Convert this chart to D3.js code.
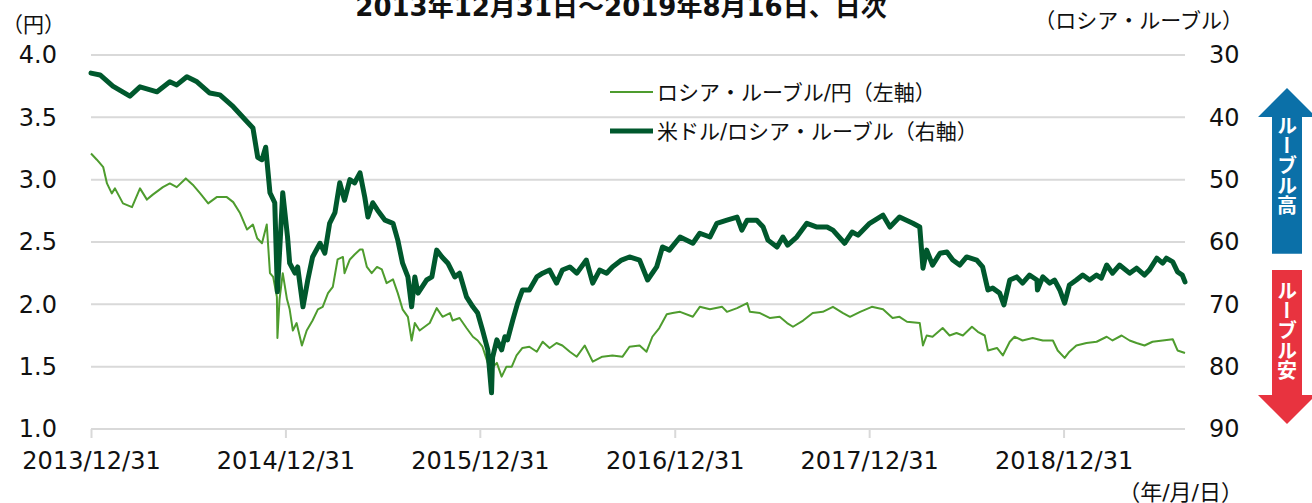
<!DOCTYPE html>
<html>
<head>
<meta charset="utf-8">
<script src="https://cdn.jsdelivr.net/npm/d3@7"></script>
<style>
  html, body { margin: 0; padding: 0; background: #fff; }
  svg { display: block; font-family: "DejaVu Sans", "Noto Sans CJK JP", sans-serif; }
</style>
</head>
<body>
<div id="chart"></div>
<script>
// ロシア・ルーブル/円（左軸）
const rubJpyDates = [
  "2013-12-31","2014-01-11","2014-01-23","2014-01-30","2014-02-08","2014-02-14","2014-03-01","2014-03-18",
  "2014-04-02","2014-04-15","2014-04-26","2014-05-15","2014-05-28","2014-06-10","2014-06-27","2014-07-10",
  "2014-07-24","2014-08-08","2014-08-24","2014-09-12","2014-09-24","2014-10-07","2014-10-20","2014-10-31",
  "2014-11-08","2014-11-17","2014-11-26","2014-12-02","2014-12-08","2014-12-15","2014-12-16","2014-12-20",
  "2014-12-26","2015-01-03","2015-01-08","2015-01-14","2015-01-21","2015-01-31","2015-02-09","2015-02-20",
  "2015-03-02","2015-03-11","2015-03-21","2015-03-30","2015-04-08","2015-04-18","2015-04-21","2015-05-01",
  "2015-05-10","2015-05-20","2015-05-25","2015-06-02","2015-06-11","2015-06-21","2015-06-30","2015-07-09",
  "2015-07-21","2015-07-30","2015-08-08","2015-08-18","2015-08-25","2015-08-31","2015-09-09","2015-09-28",
  "2015-10-11","2015-10-22","2015-11-05","2015-11-10","2015-11-23","2015-12-06","2015-12-18","2015-12-27",
  "2016-01-05","2016-01-15","2016-01-22","2016-02-01","2016-02-10","2016-02-19","2016-02-29","2016-03-09",
  "2016-03-20","2016-04-02","2016-04-16","2016-04-27","2016-05-10","2016-05-23","2016-06-03","2016-06-17",
  "2016-06-30","2016-07-15","2016-07-30","2016-08-17","2016-09-05","2016-09-24","2016-10-07","2016-10-26",
  "2016-11-08","2016-11-19","2016-12-02","2016-12-16","2016-12-27","2017-01-10","2017-02-03","2017-02-16",
  "2017-03-07","2017-03-30","2017-04-08","2017-04-27","2017-05-16","2017-05-21","2017-06-09","2017-06-28",
  "2017-07-16","2017-07-30","2017-08-10","2017-08-29","2017-09-16","2017-10-05","2017-10-24","2017-11-12",
  "2017-11-25","2017-12-14","2018-01-05","2018-01-26","2018-02-13","2018-02-26","2018-03-12","2018-04-05",
  "2018-04-11","2018-04-18","2018-04-29","2018-05-18","2018-05-31","2018-06-13","2018-06-25","2018-07-12",
  "2018-07-23","2018-08-05","2018-08-11","2018-08-28","2018-09-08","2018-09-21","2018-09-30","2018-10-15",
  "2018-11-03","2018-11-22","2018-12-11","2018-12-20","2019-01-02","2019-01-11","2019-01-24","2019-02-12",
  "2019-03-03","2019-03-22","2019-04-02","2019-04-19","2019-05-04","2019-05-17","2019-06-01","2019-06-16",
  "2019-07-05","2019-07-24","2019-08-02","2019-08-16"
];
const rubJpy = [
  3.21,3.16,3.10,2.97,2.89,2.93,2.81,2.78,
  2.93,2.84,2.88,2.94,2.97,2.94,3.01,2.96,
  2.89,2.81,2.86,2.86,2.82,2.73,2.60,2.64,
  2.53,2.49,2.64,2.25,2.22,2.06,1.73,2.04,
  2.25,2.04,1.96,1.79,1.85,1.67,1.79,1.87,
  1.96,1.98,2.09,2.14,2.36,2.38,2.25,2.36,
  2.40,2.44,2.44,2.30,2.25,2.30,2.28,2.17,
  2.20,2.09,1.96,1.90,1.71,1.85,1.79,1.85,
  1.97,1.90,1.93,1.87,1.89,1.81,1.74,1.71,
  1.66,1.53,1.49,1.53,1.42,1.50,1.50,1.59,
  1.65,1.66,1.62,1.70,1.65,1.69,1.67,1.62,
  1.58,1.67,1.54,1.58,1.59,1.58,1.66,1.67,
  1.62,1.74,1.81,1.92,1.93,1.94,1.90,1.98,
  1.96,1.98,1.94,1.97,2.01,1.94,1.93,1.89,
  1.90,1.85,1.82,1.87,1.93,1.94,1.98,1.93,
  1.90,1.94,1.98,1.96,1.89,1.90,1.86,1.85,
  1.67,1.75,1.74,1.81,1.75,1.77,1.75,1.82,
  1.78,1.75,1.63,1.65,1.59,1.70,1.74,1.71,
  1.73,1.71,1.71,1.63,1.57,1.62,1.67,1.69,
  1.70,1.74,1.71,1.75,1.71,1.69,1.67,1.70,
  1.71,1.72,1.63,1.61
];

// 米ドル/ロシア・ルーブル（右軸）
const usdRubDates = [
  "2013-12-31","2014-01-17","2014-02-10","2014-03-14","2014-04-02","2014-05-04","2014-05-28","2014-06-10",
  "2014-06-29","2014-07-18","2014-08-11","2014-08-30","2014-09-24","2014-10-20","2014-10-31","2014-11-09",
  "2014-11-17","2014-11-24","2014-12-02","2014-12-11","2014-12-16","2014-12-26","2015-01-04","2015-01-08",
  "2015-01-18","2015-01-23","2015-02-02","2015-02-11","2015-02-20","2015-03-06","2015-03-15","2015-03-24",
  "2015-04-03","2015-04-12","2015-04-21","2015-05-01","2015-05-10","2015-05-20","2015-05-29","2015-06-04",
  "2015-06-13","2015-06-22","2015-07-06","2015-07-21","2015-07-30","2015-08-08","2015-08-18","2015-08-25",
  "2015-08-31","2015-09-06","2015-09-22","2015-10-02","2015-10-11","2015-10-21","2015-11-01","2015-11-14",
  "2015-11-23","2015-12-06","2015-12-18","2015-12-27","2016-01-05","2016-01-15","2016-01-22","2016-01-24",
  "2016-02-01","2016-02-10","2016-02-16","2016-02-21","2016-03-02","2016-03-11","2016-03-20","2016-04-02",
  "2016-04-16","2016-04-27","2016-05-10","2016-05-23","2016-06-03","2016-06-17","2016-06-30","2016-07-18",
  "2016-07-30","2016-08-12","2016-08-25","2016-09-05","2016-09-22","2016-10-07","2016-10-26","2016-11-10",
  "2016-11-27","2016-12-08","2016-12-21","2017-01-10","2017-02-03","2017-02-16","2017-03-07","2017-03-20",
  "2017-04-08","2017-04-27","2017-05-06","2017-05-16","2017-06-03","2017-06-15","2017-06-24","2017-07-11",
  "2017-07-22","2017-07-31","2017-08-17","2017-09-05","2017-09-24","2017-10-13","2017-10-24","2017-11-15",
  "2017-11-29","2017-12-10","2018-01-01","2018-01-26","2018-02-08","2018-02-26","2018-03-23","2018-04-05",
  "2018-04-11","2018-04-18","2018-04-29","2018-05-13","2018-05-26","2018-06-06","2018-06-19","2018-07-02",
  "2018-07-21","2018-08-01","2018-08-11","2018-08-20","2018-09-02","2018-09-10","2018-09-21","2018-10-04",
  "2018-10-15","2018-10-28","2018-11-11","2018-11-12","2018-11-22","2018-12-05","2018-12-14","2018-12-24",
  "2019-01-02","2019-01-11","2019-01-24","2019-02-05","2019-02-18","2019-03-03","2019-03-12","2019-03-22",
  "2019-04-02","2019-04-15","2019-05-04","2019-05-17","2019-06-01","2019-06-10","2019-06-24","2019-07-05",
  "2019-07-12","2019-07-24","2019-08-02","2019-08-11","2019-08-16"
];
const usdRub = [
  32.9,33.2,35.0,36.6,35.1,35.9,34.3,34.8,
  33.5,34.3,36.1,36.4,38.3,40.7,41.7,46.4,
  46.8,44.8,52.1,53.7,68.0,52.1,59.2,63.4,
  65.0,64.0,70.4,66.1,62.4,60.2,61.8,57.0,
  55.3,50.5,53.3,50.0,50.5,48.9,52.8,56.0,
  53.7,54.9,56.5,57.0,59.7,63.4,65.6,70.4,
  65.6,68.2,66.1,65.6,61.3,62.4,63.4,65.6,
  65.0,68.8,70.4,71.4,74.1,77.3,84.2,78.5,
  75.7,77.3,75.2,75.7,72.5,69.8,67.7,67.7,
  65.6,65.0,64.5,66.6,64.5,64.0,65.0,62.9,
  66.6,64.5,65.0,64.0,62.9,62.4,62.9,66.1,
  64.0,60.8,61.3,59.2,60.2,58.6,59.2,57.0,
  56.5,56.0,58.1,56.5,56.5,57.6,59.7,60.8,
  59.2,60.5,59.2,57.0,57.6,57.6,58.1,60.2,
  58.4,58.9,57.0,55.7,57.6,56.0,57.0,57.6,
  64.2,61.3,63.7,61.8,61.6,62.9,63.7,62.4,
  62.9,64.0,67.7,67.4,68.2,70.1,66.1,65.6,
  66.6,65.3,66.1,67.7,65.6,66.6,66.1,67.7,
  69.8,66.9,66.1,65.3,66.1,65.3,65.8,63.7,
  65.0,63.7,65.0,64.2,65.3,64.5,62.6,63.4,
  62.6,63.2,64.8,65.3,66.4
];

const leftTicks = [1.0, 1.5, 2.0, 2.5, 3.0, 3.5, 4.0];
const rightTicks = [30, 40, 50, 60, 70, 80, 90];
const xTickDates = ["2013-12-31", "2014-12-31", "2015-12-31", "2016-12-31", "2017-12-31", "2018-12-31"];
const seriesNames = ["ロシア・ルーブル/円（左軸）", "米ドル/ロシア・ルーブル（右軸）"];
const seriesColors = ["#4e9c2e", "#00582d"];

const title = "2013年12月31日～2019年8月16日、日次";

const width = 1312;
const height = 503;
const marginLeft = 91;
const marginRight = 127;
const marginTop = 55;
const marginBottom = 74;

const parse = d3.timeParse("%Y-%m-%d");
const fmt = d3.timeFormat("%Y/%m/%d");

const svg = d3.select("#chart").append("svg")
  .attr("width", width)
  .attr("height", height)
  .attr("viewBox", [0, 0, width, height]);

const x = d3.scaleTime()
  .domain([parse("2013-12-31"), parse("2019-08-16")])
  .range([marginLeft, width - marginRight]);

const yL = d3.scaleLinear()
  .domain([1, 4])
  .range([height - marginBottom, marginTop]);

// right axis is inverted: 30 at top, 90 at bottom
const yR = d3.scaleLinear()
  .domain([30, 90])
  .range([marginTop, height - marginBottom]);

// gridlines
svg.append("g")
  .selectAll("line")
  .data(leftTicks)
  .join("line")
    .attr("x1", marginLeft)
    .attr("x2", width - marginRight)
    .attr("y1", d => yL(d))
    .attr("y2", d => yL(d))
    .attr("stroke", "#d9d9d9")
    .attr("stroke-width", 2);

// bottom axis
svg.append("g")
  .attr("transform", `translate(0,${height - marginBottom})`)
  .call(d3.axisBottom(x)
    .tickValues(xTickDates.map(parse))
    .tickFormat(fmt)
    .tickSize(9)
    .tickPadding(14))
  .call(g => g.select(".domain").remove())
  .call(g => g.selectAll(".tick line").attr("stroke", "#d9d9d9").attr("stroke-width", 2))
  .call(g => g.selectAll(".tick text")
    .attr("font-family", "DejaVu Sans, Noto Sans CJK JP, sans-serif")
    .attr("font-size", 24)
    .attr("fill", "#111"));

// left axis labels
svg.append("g")
  .attr("transform", `translate(${marginLeft},0)`)
  .call(d3.axisLeft(yL).tickValues(leftTicks).tickFormat(d3.format(".1f")).tickSize(0).tickPadding(34))
  .call(g => g.select(".domain").remove())
  .call(g => g.selectAll(".tick text")
    .attr("font-family", "DejaVu Sans, Noto Sans CJK JP, sans-serif")
    .attr("font-size", 24)
    .attr("fill", "#111"));

// right axis labels
svg.append("g")
  .attr("transform", `translate(${width - marginRight},0)`)
  .call(d3.axisRight(yR).tickValues(rightTicks).tickFormat(d3.format("d")).tickSize(0).tickPadding(24))
  .call(g => g.select(".domain").remove())
  .call(g => g.selectAll(".tick text")
    .attr("font-family", "DejaVu Sans, Noto Sans CJK JP, sans-serif")
    .attr("font-size", 24)
    .attr("fill", "#111"));

// lines
const lineL = d3.line()
  .x((d, i) => x(parse(rubJpyDates[i])))
  .y(d => yL(d));

const lineR = d3.line()
  .x((d, i) => x(parse(usdRubDates[i])))
  .y(d => yR(d));

svg.append("path")
  .datum(rubJpy)
  .attr("fill", "none")
  .attr("stroke", seriesColors[0])
  .attr("stroke-width", 2)
  .attr("stroke-linejoin", "round")
  .attr("d", lineL);

svg.append("path")
  .datum(usdRub)
  .attr("fill", "none")
  .attr("stroke", seriesColors[1])
  .attr("stroke-width", 5)
  .attr("stroke-linejoin", "round")
  .attr("stroke-linecap", "round")
  .attr("d", lineR);

// legend
const legend = svg.append("g").attr("transform", "translate(610,92)");
seriesNames.forEach((name, i) => {
  const g = legend.append("g").attr("transform", `translate(0,${i * 39})`);
  g.append("line")
    .attr("x1", 0).attr("x2", 43)
    .attr("stroke", seriesColors[i])
    .attr("stroke-width", i === 0 ? 2 : 5);
  g.append("text")
    .attr("x", 47)
    .attr("dy", "0.36em")
    .attr("font-size", 21)
    .attr("fill", "#111")
    .text(name);
});

// title and unit labels
svg.append("text")
  .attr("x", 621)
  .attr("y", 16)
  .attr("text-anchor", "middle")
  .attr("font-size", 26)
  .attr("font-weight", "bold")
  .attr("fill", "#111")
  .text(title);

svg.append("text")
  .attr("x", 2)
  .attr("y", 32)
  .attr("font-size", 21)
  .attr("fill", "#111")
  .text("（円）");

svg.append("text")
  .attr("x", 1243)
  .attr("y", 28)
  .attr("text-anchor", "end")
  .attr("font-size", 21)
  .attr("fill", "#111")
  .text("（ロシア・ルーブル）");

svg.append("text")
  .attr("x", 1243)
  .attr("y", 500)
  .attr("text-anchor", "end")
  .attr("font-size", 22)
  .attr("fill", "#111")
  .text("（年/月/日）");

// direction arrows
const cx = 1287;
const shaftW = 15;
const headW = 29;
const headH = 29;

function arrow(top, bottom, up, color, label) {
  const pts = up
    ? [[cx, top], [cx + headW, top + headH], [cx + shaftW, top + headH], [cx + shaftW, bottom],
       [cx - shaftW, bottom], [cx - shaftW, top + headH], [cx - headW, top + headH]]
    : [[cx, bottom], [cx + headW, bottom - headH], [cx + shaftW, bottom - headH], [cx + shaftW, top],
       [cx - shaftW, top], [cx - shaftW, bottom - headH], [cx - headW, bottom - headH]];
  svg.append("polygon")
    .attr("points", pts.map(p => p.join(",")).join(" "))
    .attr("fill", color);
  const ty = up ? top + headH - 2 : top + 10;
  svg.append("text")
    .attr("x", cx)
    .attr("y", ty)
    .attr("font-family", "Noto Sans CJK JP, sans-serif")
    .attr("font-size", 20)
    .attr("font-weight", "bold")
    .attr("fill", "#fff")
    .style("writing-mode", "vertical-rl")
    .style("text-orientation", "upright")
    .text(label);
}

arrow(yR(35.3), yR(61.9), true, "#0b70a8", "ルーブル高");
arrow(yR(64.5), yR(89.2), false, "#e8333f", "ルーブル安");
</script>
</body>
</html>
